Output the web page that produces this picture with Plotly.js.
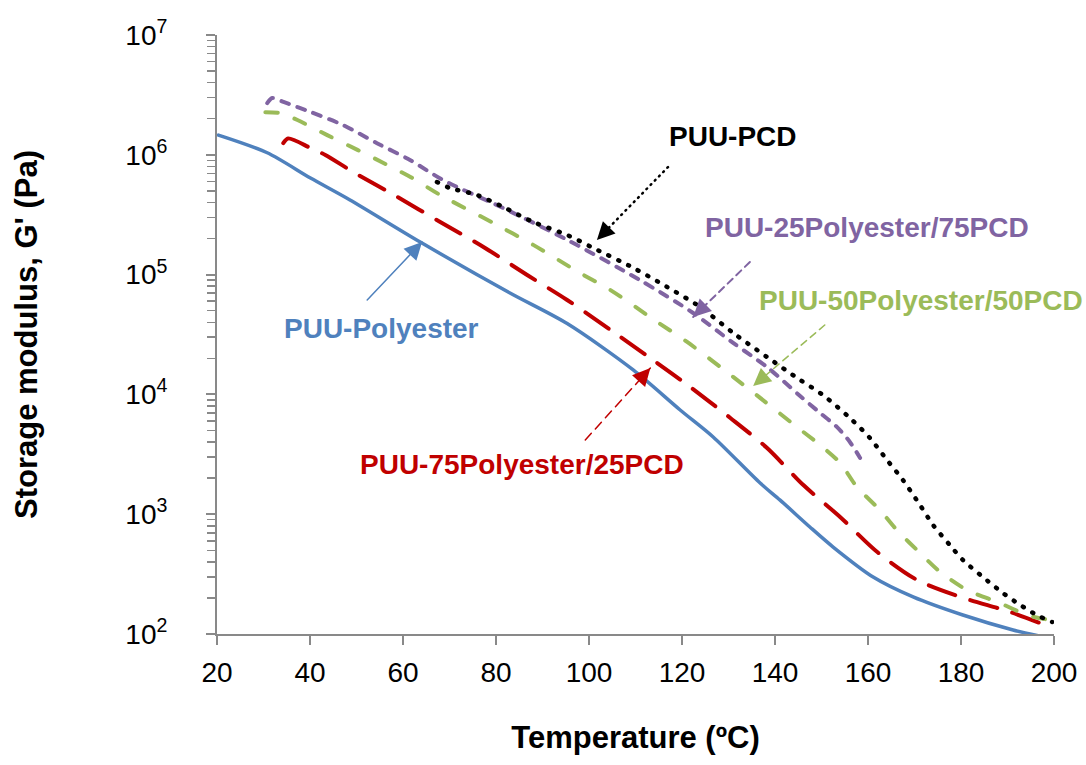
<!DOCTYPE html>
<html><head><meta charset="utf-8">
<script src="https://cdn.plot.ly/plotly-3.0.1.min.js"></script>
<style>
html,body{margin:0;padding:0;background:#fff;}
.js-line{stroke-linecap:round;stroke-linejoin:round;}
.shapelayer path{stroke-linecap:round;}
</style></head><body>
<div id="chart" style="width:1086px;height:765px;"></div>
<script>
// ---- data ----
const tPolyester = [20.3, 30.8, 40.1, 48.6, 63.7, 83.0, 95.3, 109.5, 119.6, 126.7, 136.8, 141.1, 147.5, 152.5, 161.1, 169.7, 180.4, 191.2, 197.0];
const gPolyester = [1.46e6, 1.04e6, 6.40e5, 4.20e5, 1.87e5, 7.02e4, 3.90e4, 1.60e4, 7.41e3, 4.41e3, 1.82e3, 1.31e3, 782, 532, 299, 204, 144, 108, 96];

const t75P25C = [34.25, 35.3, 40.1, 43.3, 49.3, 58.8, 68.0, 77.3, 86.7, 95.3, 104.6, 113.2, 121.8, 130.4, 138.3, 146.1, 154.0, 162.0, 170.6, 180.5, 190.5, 199.8];
const g75P25C = [1.25e6, 1.37e6, 1.14e6, 9.96e5, 7.18e5, 4.45e5, 2.75e5, 1.70e5, 9.93e4, 6.14e4, 3.45e4, 2.01e4, 1.15e4, 6.36e3, 3.57e3, 1.75e3, 948, 483, 282, 200, 153, 112];

const t50P50C = [30.4, 33.6, 37.3, 43.7, 50.2, 55.8, 61.6, 68.0, 79.4, 88.0, 98.1, 104.6, 114.7, 121.1, 131.0, 137.4, 144.7, 149.7, 154.0, 157.6, 162.6, 166.2, 171.2, 175.5, 181.3, 188.4, 194.2, 198.1];
const g50P50C = [2.27e6, 2.23e6, 1.95e6, 1.46e6, 1.10e6, 8.55e5, 6.53e5, 4.62e5, 2.70e5, 1.77e5, 1.03e5, 7.43e4, 4.02e4, 2.74e4, 1.40e4, 8.97e3, 5.35e3, 3.78e3, 2.68e3, 1.69e3, 1.08e3, 738, 474, 330, 233, 181, 144, 133];

const t25P75C = [30.8, 31.9, 34.3, 40.1, 47.1, 54.4, 61.5, 68.6, 81.5, 95.3, 110.9, 122.4, 131.0, 138.3, 145.4, 149.7, 153.3, 156.1, 158.3];
const g25P75C = [2.70e6, 2.98e6, 2.76e6, 2.28e6, 1.77e6, 1.25e6, 9.05e5, 6.16e5, 3.60e5, 1.95e5, 9.02e4, 4.78e4, 2.69e4, 1.69e4, 9.7e3, 7.0e3, 5.35e3, 4.01e3, 2.95e3];

const tPCD = [67.3, 70.1, 75.9, 81.5, 88.0, 95.3, 100.9, 109.5, 116.8, 123.9, 131.0, 138.3, 145.4, 150.3, 156.1, 160.4, 164.1, 167.5, 171.2, 174.0, 177.6, 180.4, 184.7, 189.0, 192.7, 196.3, 199.6];
const gPCD = [5.93e5, 5.28e5, 4.62e5, 3.67e5, 2.75e5, 2.14e5, 1.67e5, 1.14e5, 7.88e4, 5.37e4, 3.26e4, 2.05e4, 1.32e4, 9.89e3, 6.36e3, 4.33e3, 2.83e3, 1.93e3, 1.19e3, 813, 553, 415, 299, 220, 175, 144, 126];

const seriesNames = ["PUU-Polyester", "PUU-75Polyester/25PCD", "PUU-50Polyester/50PCD", "PUU-25Polyester/75PCD", "PUU-PCD"];
const xTickVals = [20, 40, 60, 80, 100, 120, 140, 160, 180, 200];
const yTickVals = [1e2, 1e3, 1e4, 1e5, 1e6, 1e7];
const yTickText = ["10<sup>2</sup>", "10<sup>3</sup>", "10<sup>4</sup>", "10<sup>5</sup>", "10<sup>6</sup>", "10<sup>7</sup>"];

// ---- styling ----
const cBlue = "#4F81BD", cRed = "#C00000", cGreen = "#9BBB59", cPurple = "#8064A2", cBlack = "#000000";
const axisGrey = "#898989";
const FONT = "Liberation Sans, Arial, sans-serif";

const traces = [
  {x: tPolyester, y: gPolyester, name: seriesNames[0], mode: "lines", line: {color: cBlue, width: 3.5, shape: "spline", smoothing: 0.8}},
  {x: t75P25C, y: g75P25C, name: seriesNames[1], mode: "lines", line: {color: cRed, width: 4, dash: "28px,16px", shape: "spline", smoothing: 0.8}},
  {x: t50P50C, y: g50P50C, name: seriesNames[2], mode: "lines", line: {color: cGreen, width: 4, dash: "12px,18px", shape: "spline", smoothing: 0.8}},
  {x: t25P75C, y: g25P75C, name: seriesNames[3], mode: "lines", line: {color: cPurple, width: 4, dash: "8px,9px", shape: "spline", smoothing: 0.8}},
  {x: tPCD, y: gPCD, name: seriesNames[4], mode: "lines", line: {color: cBlack, width: 4.5, dash: "1px,10px", shape: "spline", smoothing: 0.8}}
];

const minorVals = [];
for (let d = 2; d < 7; d++) for (let k = 2; k <= 9; k++) minorVals.push(k * Math.pow(10, d));

// label/arrow positions (T, log10 G)
const labels = [
  {text: "PUU-PCD", color: cBlack, x: 131.0, y: 6.149, xanchor: "center"},
  {text: "PUU-25Polyester/75PCD", color: cPurple, x: 124.5, y: 5.397, xanchor: "left"},
  {text: "PUU-50Polyester/50PCD", color: cGreen, x: 136.2, y: 4.780, xanchor: "left"},
  {text: "PUU-Polyester", color: cBlue, x: 34.0, y: 4.554, xanchor: "left"},
  {text: "PUU-75Polyester/25PCD", color: cRed, x: 50.4, y: 3.419, xanchor: "left"}
];
const arrows = [
  {color: cBlack, tail: [117.0, 5.898], tip: [101.7, 5.289], dash: "1px,5px", w: 2.5},
  {color: cPurple, tail: [134.6, 5.105], tip: [122.4, 4.646], dash: "7px,5px", w: 2},
  {color: cGreen, tail: [150.7, 4.579], tip: [135.3, 4.070], dash: "7px,5px", w: 1.5},
  {color: cBlue, tail: [52.3, 4.788], tip: [64.1, 5.272], dash: "solid", w: 1.5},
  {color: cRed, tail: [99.2, 3.619], tip: [113.2, 4.220], dash: "9px,6px", w: 1.5}
];

const annotations = [];
const shapes = [];
labels.forEach(l => annotations.push({
  x: l.x, y: l.y, xref: "x", yref: "y", text: "<b>" + l.text + "</b>", showarrow: false,
  xanchor: l.xanchor, yanchor: "middle", font: {family: FONT, size: 28, color: l.color}
}));
arrows.forEach(a => {
  shapes.push({type: "line", xref: "x", yref: "y",
    x0: a.tail[0], y0: Math.pow(10, a.tail[1]), x1: a.tip[0], y1: Math.pow(10, a.tip[1]),
    line: {color: a.color, width: a.w, dash: a.dash}});
  // arrow head: a short arrow pointing to the tip, along the shaft direction
  const dxT = (a.tail[0] - a.tip[0]) * 4.652, dyL = -(a.tail[1] - a.tip[1]) * 119.8;
  const len = Math.hypot(dxT, dyL);
  annotations.push({x: a.tip[0], y: a.tip[1], xref: "x", yref: "y", text: "", showarrow: true,
    ax: dxT / len * 14, ay: dyL / len * 14, axref: "pixel", ayref: "pixel",
    arrowhead: 2, arrowsize: 1.6, arrowwidth: 2.2, arrowcolor: a.color, standoff: 0});
});

const layout = {
  width: 1086, height: 765,
  margin: {l: 217, r: 32, t: 35, b: 131},
  paper_bgcolor: "#ffffff", plot_bgcolor: "#ffffff",
  showlegend: false,
  font: {family: FONT, color: "#000000"},
  xaxis: {
    range: [20, 200], tickmode: "array", tickvals: xTickVals,
    showgrid: false, zeroline: false, showline: true, linecolor: axisGrey, linewidth: 2,
    ticks: "outside", ticklen: 9, tickwidth: 2, tickcolor: axisGrey,
    tickfont: {family: FONT, size: 28, color: "#000"}, ticklabelstandoff: 3,
    title: {text: "<b>Temperature (ºC)</b>", font: {family: FONT, size: 31, color: "#000"}, standoff: 40}
  },
  yaxis: {
    type: "log", range: [2, 7], tickmode: "array", tickvals: yTickVals, ticktext: yTickText,
    showgrid: false, zeroline: false, showline: true, linecolor: axisGrey, linewidth: 2,
    ticks: "outside", ticklen: 9, tickwidth: 2, tickcolor: axisGrey,
    tickfont: {family: FONT, size: 28, color: "#000"}, ticklabelstandoff: 33,
    minor: {tickmode: "array", tickvals: minorVals, ticks: "outside", ticklen: 8, tickwidth: 1.5, tickcolor: axisGrey, showgrid: false},
    title: {text: "<b>Storage modulus, G' (Pa)</b>", font: {family: FONT, size: 31, color: "#000"}, standoff: 78}
  },
  annotations: annotations,
  shapes: shapes
};

Plotly.newPlot("chart", traces, layout, {displayModeBar: false, staticPlot: true});
</script>
</body></html>
